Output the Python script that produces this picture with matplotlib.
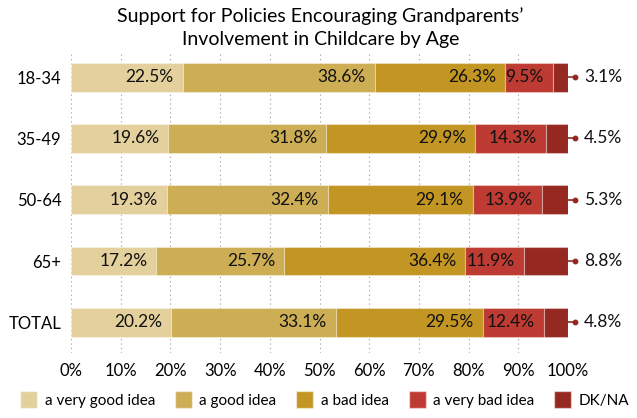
import numpy as np
import matplotlib.pyplot as plt
from matplotlib.patches import Patch

plt.rcParams['font.family'] = ['Lato', 'DejaVu Sans']

# dados
grupos = ["18-34", "35-49", "50-64", "65+", "TOTAL"]
respostas = ["a very good idea", "a good idea", "a bad idea", "a very bad idea", "DK/NA"]
muito_bom = [22.5, 19.6, 19.3, 17.2, 20.2]
bom = [38.6, 31.8, 32.4, 25.7, 33.1]
ruim = [26.3, 29.9, 29.1, 36.4, 29.5]
muito_ruim = [9.5, 14.3, 13.9, 11.9, 12.4]
nao_sabe = [3.1, 4.5, 5.3, 8.8, 4.8]
cores = ["#e3d09c", "#cdae55", "#c39623", "#bd3b32", "#952820"]

series = [muito_bom, bom, ruim, muito_ruim, nao_sabe]

fig = plt.figure(figsize=(6.37, 4.18), dpi=100)
ax = fig.add_axes([71 / 637, 1 - 353 / 418, 497 / 637, 301 / 418])

y = np.arange(len(grupos))
esquerda = np.zeros(len(grupos))
for i, vals in enumerate(series):
    vals = np.array(vals)
    ax.barh(y, vals, left=esquerda, height=0.47, color=cores[i],
            edgecolor=(1, 1, 1, 0.35), linewidth=0.8, zorder=2)
    for j, v in enumerate(vals):
        fim = esquerda[j] + v
        if i < 4:
            ax.annotate(f"{v:.1f}%", (fim, y[j]), xytext=(-6.5, 0),
                        textcoords="offset points", ha="right", va="center",
                        fontsize=12.5, color="#111111", zorder=3)
        else:
            # rotulo fora da barra com pequeno conector
            ax.plot([fim, 101.5], [y[j], y[j]], color=cores[4], lw=1.2,
                    clip_on=False, zorder=3)
            ax.plot([101.5], [y[j]], "o", color=cores[4], ms=3.2, clip_on=False, zorder=3)
            ax.text(103.2, y[j], f"{v:.1f}%", ha="left", va="center",
                    fontsize=12.5, color="#111111", clip_on=False)
    esquerda += vals

ax.set_xlim(0, 100)
ax.set_ylim(4.5, -0.41)
ax.set_yticks(y)
ax.set_yticklabels(grupos, fontsize=12)
ax.set_xticks(np.arange(0, 101, 10))
ax.set_xticklabels([f"{t}%" for t in range(0, 101, 10)], fontsize=12)
ax.tick_params(length=0, pad=7)
ax.grid(axis="x", linestyle=(0, (1, 3)), color="#999999", linewidth=0.8, zorder=0)
for s in ax.spines.values():
    s.set_visible(False)

# titulo em duas linhas
fig.text(0.503, 1 - 22 / 418, "Support for Policies Encouraging Grandparents’",
         ha="center", va="baseline", fontsize=14)
fig.text(0.503, 1 - 45 / 418, "Involvement in Childcare by Age",
         ha="center", va="baseline", fontsize=14)

handles = [Patch(facecolor=c, edgecolor=(1, 1, 1, 0.5)) for c in cores]
fig.legend(handles, respostas, loc="lower center", bbox_to_anchor=(0.51, -0.01), ncol=5,
           frameon=False, fontsize=11, handlelength=1.1, handleheight=1.4,
           columnspacing=1.3, handletextpad=0.5)

fig.savefig("out.png", dpi=100)
